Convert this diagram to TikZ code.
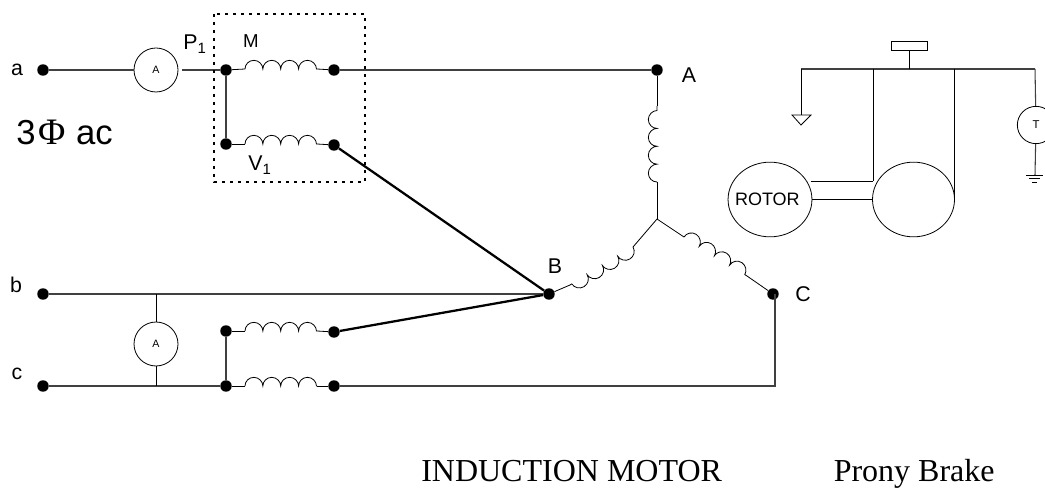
\documentclass[tikz,border=0pt]{standalone}
\usepackage{fontspec}
\setmainfont{Liberation Sans}
\newfontfamily\serifpart{Liberation Serif}
\usetikzlibrary{shapes.geometric, decorations.pathmorphing}

\tikzset{
  wire/.style={line width=0.8pt, black!75},
  heavy/.style={line width=1.7pt, black},
  thin/.style={line width=0.6pt, black},
  dot/.style={circle, fill=black, inner sep=0pt, minimum size=8.6pt},
  meter/.style={circle, draw, line width=0.6pt, inner sep=0pt, minimum size=33pt, font=\fontsize{8}{9}\selectfont},
  wheel/.style={ellipse, draw, line width=0.6pt, inner sep=0pt, minimum width=61.5pt, minimum height=56pt},
  coil/.style={line width=0.6pt, decorate, decoration={bumps, segment length=26.8pt, amplitude=6.5pt}},
  lab/.style={font=\fontsize{16}{18}\selectfont, inner sep=0pt},
  title/.style={font=\fontsize{24}{26}\selectfont\serifpart, inner sep=0pt, anchor=base west}
}

\begin{document}
\begin{tikzpicture}[x=0.75pt, y=-0.75pt]
  \clip (0,0) rectangle (1045,488);

  % terminals and test points
  \node[dot] (a) at (43,70) {};
  \node[dot] (b) at (43,294) {};
  \node[dot] (c) at (43,386) {};
  \node[dot] (p1) at (226,70) {};
  \node[dot] (m1) at (334,70) {};
  \node[dot] (v1) at (226,144) {};
  \node[dot] (v2) at (334,145) {};
  \node[dot] (q1) at (226,331) {};
  \node[dot] (q2) at (334,332) {};
  \node[dot] (r1) at (226,386) {};
  \node[dot] (r2) at (334,386) {};
  \node[dot] (A) at (657,70) {};
  \node[dot] (B) at (549,294) {};
  \node[dot] (C) at (773,294) {};

  \node[meter] (ma) at (156,70) {A};
  \node[meter] (mb) at (156,344) {A};
  \coordinate (mgap) at (182,70);
  \coordinate (btap) at (156,294);
  \coordinate (ctap) at (156,386);
  \coordinate (ccorner) at (775,386);
  \coordinate (cup) at (775,294);
  \coordinate (star) at (657,219);

  % coil ends
  \coordinate (m1a) at (245,69);
  \coordinate (m1b) at (317,69);
  \coordinate (v1a) at (245,144);
  \coordinate (v1b) at (317,144);
  \coordinate (q1a) at (245,331);
  \coordinate (q1b) at (317,331);
  \coordinate (r1a) at (245,386);
  \coordinate (r1b) at (317,386);
  \coordinate (sa1) at (657,182);
  \coordinate (sa2) at (657,106);
  \coordinate (sb1) at (633,247);
  \coordinate (sb2) at (570,285);
  \coordinate (sc1) at (684,237);
  \coordinate (sc2) at (747,276);

  \draw[wire] (a) -- (ma);
  \draw[wire] (mgap) -- (p1);
  \draw[wire] (m1) -- (A);
  \draw[wire] (p1) -- (v1);
  \draw[wire] (b) -- (B);
  \draw[wire] (c) -- (r1);
  \draw[wire] (q1) -- (r1);
  \draw[wire] (r2) -- (ccorner) -- (cup);
  \draw[thin] (btap) -- (mb);
  \draw[thin] (mb) -- (ctap);

  \draw[thin] (p1) -- (m1a);
  \draw[thin] (m1b) -- (m1);
  \draw[thin] (v1) -- (v1a);
  \draw[thin] (v1b) -- (v2);
  \draw[thin] (q1) -- (q1a);
  \draw[thin] (q1b) -- (q2);
  \draw[thin] (r1) -- (r1a);
  \draw[thin] (r1b) -- (r2);
  \draw[coil] (m1a) -- (m1b);
  \draw[coil] (v1a) -- (v1b);
  \draw[coil] (q1a) -- (q1b);
  \draw[coil] (r1a) -- (r1b);

  % star winding
  \draw[thin] (A) -- (sa2);
  \draw[coil] (sa1) -- (sa2);
  \draw[thin] (star) -- (sa1);
  \draw[thin] (star) -- (sb1);
  \draw[coil] (sb1) -- (sb2);
  \draw[thin] (sb2) -- (B);
  \draw[thin] (star) -- (sc1);
  \draw[coil] (sc1) -- (sc2);
  \draw[thin] (sc2) -- (C);

  \draw[heavy] (v2) -- (B);
  \draw[heavy] (q2) -- (B);

  % watt meter box
  \draw[line width=1.7pt, dash pattern=on 2.2pt off 3.8pt] (214,14) rectangle (365,182);

  % brake
  \node[wheel] (rotor) at (770,199.5) {\fontsize{13.5}{15}\selectfont\kern-4pt ROTOR};
  \node[wheel] (drum) at (913.5,199.5) {};
  \node[meter, minimum size=28pt, font=\fontsize{8.5}{10}\selectfont] (torque) at (1036,125) {\raisebox{-3pt}{T}};
  \node[draw, line width=0.6pt, inner sep=0pt, minimum width=27pt, minimum height=6.8pt] (scale) at (909,45.5) {};
  \coordinate (barl) at (801,69);
  \coordinate (barr) at (1035,69);
  \coordinate (tapa) at (873,69);
  \coordinate (tapb) at (954,69);
  \coordinate (stem) at (909,69);
  \coordinate (armend) at (801,115);
  \coordinate (rotorarm) at (811,181);
  \coordinate (armcorner) at (873,181);
  \coordinate (drumside) at (954,199.5);
  \coordinate (gnd) at (1035,175);

  \draw[wire] (barl) -- (barr);
  \draw[thin] (scale) -- (stem);
  \draw[thin] (barl) -- (armend);
  \draw[thin, line join=miter] (792,115) -- (811,115) -- (801,125) -- cycle;
  \draw[thin] (tapa) -- (armcorner);
  \draw[thin] (rotorarm) -- (armcorner);
  \draw[thin] (rotor.east) -- (drum.west);
  \draw[thin] (tapb) -- (drumside);
  \draw[wire] (barr) -- (torque);
  \draw[wire] (torque) -- (gnd);
  \draw[thin] (1026,175) -- (1043,175);
  \draw[thin] (1029,178.5) -- (1040,178.5);
  \draw[thin] (1032,182) -- (1037,182);

  % labels
  \node[lab] (la) at (17,70) {a};
  \node[lab] (lb) at (16,285) {b};
  \node[lab] (lc) at (17,374) {c};
  \node[lab] (lA) at (689,75) {A};
  \node[lab] (lB) at (555,266) {B};
  \node[lab] (lC) at (803,294) {C};
  \node[lab, font=\fontsize{14}{16}\selectfont] (lM) at (251,41) {M};
  \node[lab] (lP) at (195,44) {P\textsubscript{1}};
  \node[lab] (lV) at (260,165) {V\textsubscript{1}};
  \node[font=\fontsize{26}{28}\selectfont, inner sep=0pt, anchor=base west] (lphase) at (16,145) {3\kern2pt{\serifpart\fontsize{28}{30}\selectfont Φ}\kern8pt ac};
  \node[title] (lmotor) at (421,481.5) {INDUCTION MOTOR};
  \node[title] (lbrake) at (833.5,481.5) {Prony Brake};
\end{tikzpicture}
\end{document}
